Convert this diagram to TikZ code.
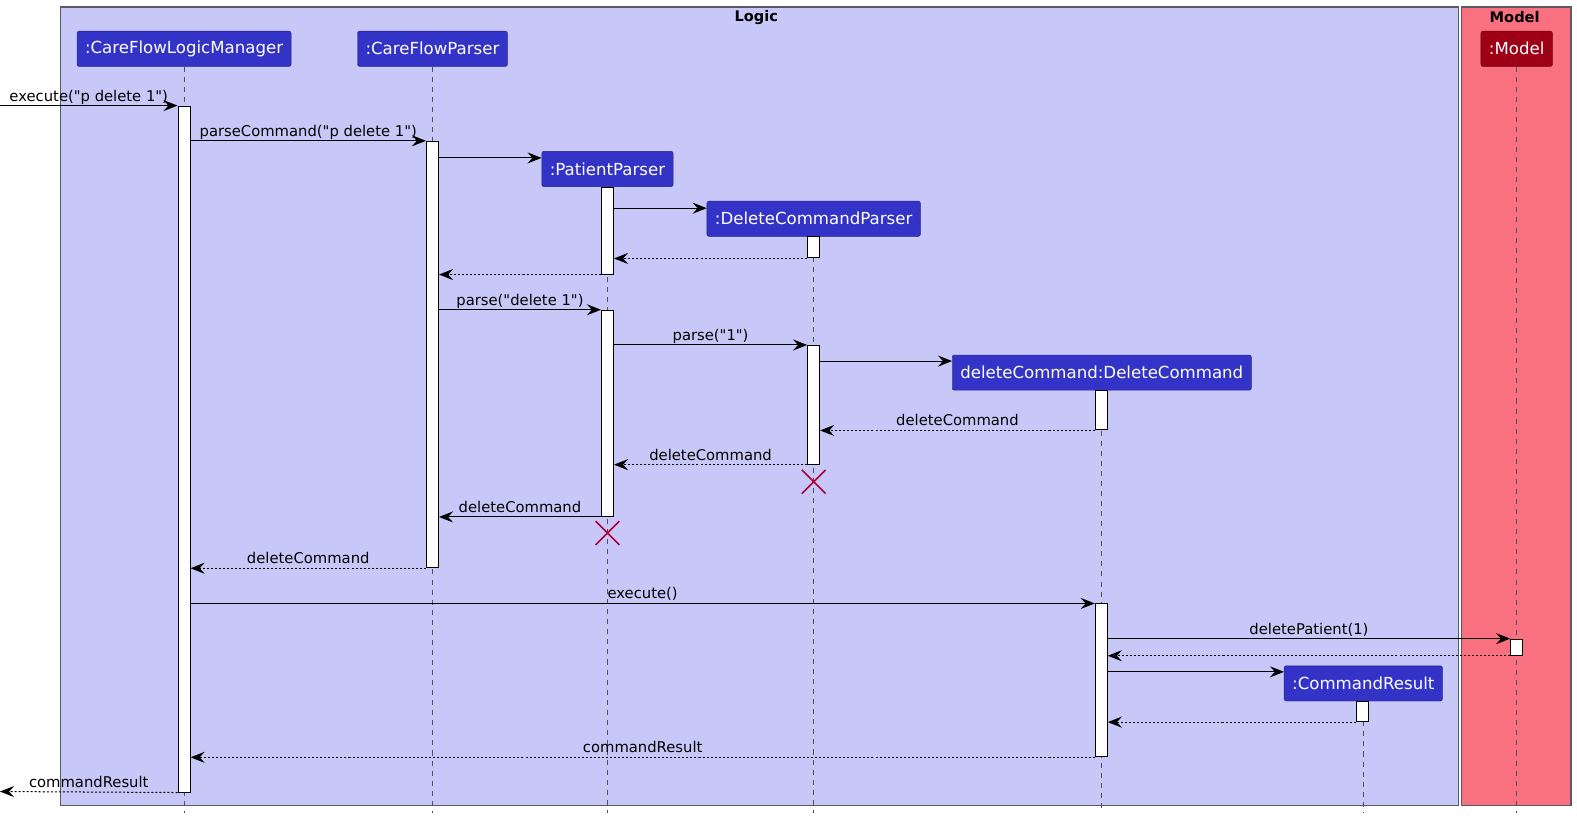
\documentclass[tikz,border=0pt]{standalone}
\usepackage{fontspec}
\setmainfont{DejaVu Sans}[Ligatures=TeXOff]
\usetikzlibrary{arrows.meta, shapes.misc}
\definecolor{logicbg}{RGB}{200,200,248}
\definecolor{modelbg}{RGB}{249,112,128}
\definecolor{framegray}{RGB}{90,90,100}
\definecolor{hdrblue}{RGB}{51,51,200}
\definecolor{hdrline}{RGB}{35,35,120}
\definecolor{hdrred}{RGB}{158,0,22}
\definecolor{lifegray}{RGB}{80,80,90}
\definecolor{xred}{RGB}{176,0,58}
\tikzset{
  hdr/.style={rectangle, rounded corners=2pt, draw=hdrline, fill=hdrblue, text=white,
    minimum height=35, inner xsep=8pt, font=\fontsize{16.5}{18}\selectfont},
  hdrm/.style={hdr, fill=hdrred, draw=hdrred!70!black},
  bar/.style={rectangle, draw=black, fill=white, minimum width=12, inner sep=0, line width=1pt},
  life/.style={draw=lifegray, dash pattern=on 5pt off 5pt, line width=0.8pt},
  msg/.style={line width=1pt, -{Stealth[length=14pt, width=11pt, inset=5pt]}},
  ret/.style={msg, dash pattern=on 2pt off 2pt},
  lbl/.style={above, inner sep=1pt, text depth=3pt, font=\fontsize{14.7}{17}\selectfont},
  kill/.style={cross out, draw=xred, line width=1.6pt, minimum size=22, inner sep=0},
  ttl/.style={font=\bfseries\fontsize{14.5}{17}\selectfont}
}

\begin{document}
\begin{tikzpicture}[x=1pt, y=-1pt]
\useasboundingbox (0,0) rectangle (1568,816);

% boxes
\draw [fill=logicbg, draw=framegray, line width=1.2pt] (60,7) rectangle (1450,801);
\draw [fill=modelbg, draw=framegray, line width=1.2pt] (1453,7) rectangle (1562,801);
\node (logic) [ttl] at (752,17) {Logic};
\node (model) [ttl] at (1506,17) {Model};

% participants
\node (cflm) [hdr] at (183,48.5) {:CareFlowLogicManager};
\node (cfp) [hdr] at (430,48.5) {:CareFlowParser};
\node (pp) [hdr] at (604,168) {:PatientParser};
\node (dcp) [hdr] at (809,217.5) {:DeleteCommandParser};
\node (dc) [hdr] at (1095.5,370.5) {deleteCommand:DeleteCommand};
\node (cr) [hdr] at (1355.5,679.5) {:CommandResult};
\node (mdl) [hdrm] at (1508,48.5) {:Model};

\coordinate (bottom) at (0,808);
\coordinate (in) at (0,105);
\coordinate (out) at (0,787);

\foreach \p in {cflm, cfp, pp, dcp, dc, cr, mdl}
  \draw [life] (\p.south) -- (\p.south |- bottom);

% activations
\node (a1) [bar, anchor=north, minimum height=682] at (183,105) {};
\node (a2) [bar, anchor=north, minimum height=424] at (430,140) {};
\node (a3) [bar, anchor=north, minimum height=86] at (604,186) {};
\node (a4) [bar, anchor=north, minimum height=21] at (809,235) {};
\node (a5) [bar, anchor=north, minimum height=205] at (604,308) {};
\node (a6) [bar, anchor=north, minimum height=118] at (809,343) {};
\node (a7) [bar, anchor=north, minimum height=39] at (1095,388) {};
\node (a8) [bar, anchor=north, minimum height=152] at (1095,600) {};
\node (a9) [bar, anchor=north, minimum height=16] at (1508,635) {};
\node (a10) [bar, anchor=north, minimum height=20] at (1355,697) {};

% messages
\draw [msg] (in) -- (a1.north west) node [lbl, midway] {execute("p delete 1")};
\draw [msg] (a1.east |- a2.north) -- (a2.north west) node [lbl, midway] {parseCommand("p delete 1")};
\draw [msg] (a2.east |- 0,157) -- (pp.west |- 0,157);
\draw [msg] (a3.east |- 0,207) -- (dcp.west |- 0,207);
\draw [ret] (a4.south west) -- (a3.east |- a4.south);
\draw [ret] (a3.south west) -- (a2.east |- a3.south);

\draw [msg] (a2.east |- a5.north) -- (a5.north west) node [lbl, midway] {parse("delete 1")};
\draw [msg] (a5.east |- a6.north) -- (a6.north west) node [lbl, midway] {parse("1")};
\draw [msg] (a6.east |- 0,359) -- (dc.west |- 0,359);
\draw [ret] (a7.south west) -- (a6.east |- a7.south) node [lbl, midway] {deleteCommand};
\draw [ret] (a6.south west) -- (a5.east |- a6.south) node [lbl, midway] {deleteCommand};
\node (x1) [kill] at (809,479) {};
\draw [msg] (a5.south west) -- (a2.east |- a5.south) node [lbl, midway] {deleteCommand};
\node (x2) [kill] at (604,530) {};
\draw [ret] (a2.south west) -- (a1.east |- a2.south) node [lbl, midway] {deleteCommand};

\draw [msg] (a1.east |- a8.north) -- (a8.north west) node [lbl, midway] {execute()};
\draw [msg] (a8.east |- a9.north) -- (a9.north west) node [lbl, midway] {deletePatient(1)};
\draw [ret] (a9.south west) -- (a8.east |- a9.south);
\draw [msg] (a8.east |- 0,668) -- (cr.west |- 0,668);
\draw [ret] (a10.south west) -- (a8.east |- a10.south);
\draw [ret] (a8.south west) -- (a1.east |- a8.south) node [lbl, midway] {commandResult};
\draw [ret] (a1.south west) -- (out) node [lbl, midway] {commandResult};

\end{tikzpicture}
\end{document}
